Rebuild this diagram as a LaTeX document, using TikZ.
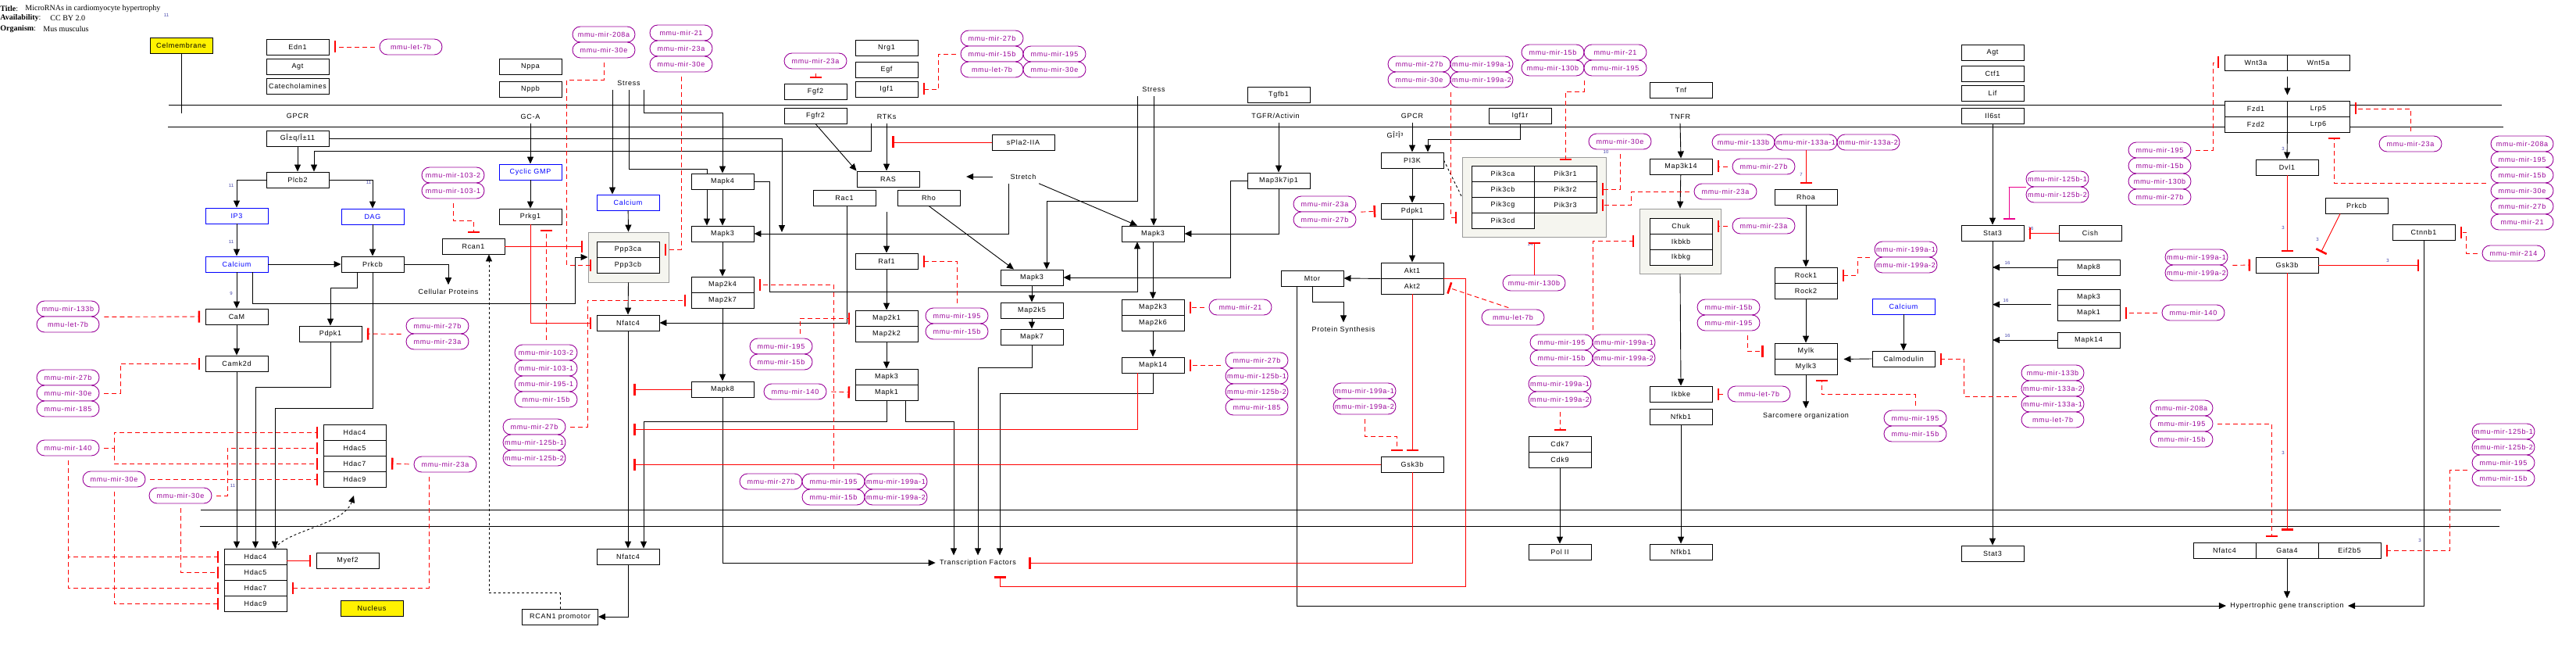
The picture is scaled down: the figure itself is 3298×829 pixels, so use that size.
\documentclass[tikz,border=0pt]{standalone}
\usepackage{fontspec}
\setmainfont{Liberation Serif}
\newfontfamily\genefam[LetterSpace=8]{Liberation Sans}
\newfontfamily\numfam{Liberation Sans}
\newcommand{\genefont}{\genefam\fontsize{9}{10}\selectfont}
\usetikzlibrary{arrows.meta}
\usetikzlibrary{shapes.misc}
\definecolor{mir-purple}{HTML}{990099}
\definecolor{pale-gray}{HTML}{F5F5EF}
\definecolor{cplx-gray}{HTML}{999999}
\definecolor{num-blue}{HTML}{4444AA}
\tikzset{gene/.style = {draw, fill=white, minimum width=80pt, minimum height=20pt, inner sep=0pt, font=\genefont}}
\tikzset{metab/.style = {gene, draw=blue, text=blue}}
\tikzset{yel/.style = {gene, fill=yellow}}
\tikzset{mir/.style = {draw=mir-purple, text=mir-purple, fill=white, rounded corners=10pt, minimum width=80pt, minimum height=20pt, inner sep=0pt, font=\genefont}}
\tikzset{txt/.style = {inner sep=5pt, font=\genefont}}
\tikzset{hdr/.style = {anchor=west, inner sep=0pt, font=\fontsize{10}{12}\selectfont}}
\tikzset{num/.style = {inner sep=0pt, text=num-blue, font=\numfam\fontsize{6}{6}\selectfont}}
\tikzset{cplx/.style = {chamfered rectangle, chamfered rectangle xsep=12pt, chamfered rectangle ysep=12pt, draw=cplx-gray, fill=pale-gray, inner sep=0pt}}
\tikzset{arr/.style = {-{Triangle[length=9pt,width=8pt]}}}
\tikzset{inh/.style = {draw=red, -{Bar[width=15pt,line width=2.5pt]}, shorten >=6.5pt}}
\tikzset{mirinh/.style = {inh, dash pattern=on 6pt off 4pt, shorten <=6pt}}

\begin{document}
\begin{tikzpicture}[x=1pt, y=-1pt, line width=0.9pt]
\useasboundingbox (0,0) rectangle (3298,829);

% membranes
\draw (216,134) -- (3203,134);
\draw (215,162) -- (3205,162);
\draw (257,652) -- (3202,652);
\draw (256,673) -- (3200,673);

\node[hdr] (ttl) at (0,11) {\textbf{Title}:};
\node[hdr] (ttlv) at (32,11) {MicroRNAs in cardiomyocyte hypertrophy};
\node[hdr] (avl) at (0,23) {\textbf{Availability}:};
\node[hdr] (avlv) at (64,23) {CC BY 2.0};
\node[hdr] (org) at (0,37) {\textbf{Organism}:};
\node[hdr] (orgv) at (55,37) {Mus musculus};

% left block
\node[yel] (celmem) at (232,58) {Celmembrane};
\coordinate (cmend) at (232,145);
\node[gene] (edn1) at (381,60) {Edn1};
\node[gene] (agt1) at (381,85) {Agt};
\node[gene] (catech) at (381,110) {Catecholamines};
\node[mir] (ml1) at (526,60) {mmu-let-7b};
\node[txt] (gpcr1) at (381,148) {GPCR};
\node[gene] (gaq) at (381,177) {GÎ±q/Î±11};
\node[gene] (plcb2) at (381,230) {Plcb2};
\node[metab] (ip3) at (303,276) {IP3};
\node[metab] (dag) at (477,277) {DAG};
\node[metab] (calc1) at (303,338) {Calcium};
\node[gene] (prkcb1) at (477,338) {Prkcb};
\node[gene] (cam) at (303,405) {CaM};
\node[gene] (camk2d) at (303,465) {Camk2d};
\node[gene] (pdpk1a) at (423,427) {Pdpk1};
\node[txt] (cellprot) at (574,373) {Cellular Proteins};
\node[mir] (m133b1) at (87,395) {mmu-mir-133b};
\node[mir] (ml2) at (87,415) {mmu-let-7b};
\node[mir] (m27b1) at (87,483) {mmu-mir-27b};
\node[mir] (m30e1) at (87,503) {mmu-mir-30e};
\node[mir] (m185a) at (87,523) {mmu-mir-185};
\node[mir] (m140a) at (87,573) {mmu-mir-140};
\node[mir] (m30e2) at (146,613) {mmu-mir-30e};
\node[mir] (m30e3) at (231,634) {mmu-mir-30e};
\node[gene] (hu4) at (454,553) {Hdac4};
\node[gene] (hu5) at (454,573) {Hdac5};
\node[gene] (hu7) at (454,593) {Hdac7};
\node[gene] (hu9) at (454,613) {Hdac9};
\node[gene] (hl4) at (327,712) {Hdac4};
\node[gene] (hl5) at (327,732) {Hdac5};
\node[gene] (hl7) at (327,752) {Hdac7};
\node[gene] (hl9) at (327,772) {Hdac9};
\node[gene] (myef2) at (445,717) {Myef2};
\node[yel] (nucleus) at (476,778) {Nucleus};
\node[mir] (m23a1) at (570,594) {mmu-mir-23a};
\node[mir] (m27b2) at (560,417) {mmu-mir-27b};
\node[mir] (m23a2) at (560,437) {mmu-mir-23a};

% calcineurin block
\node[mir] (m103a) at (580,224) {mmu-mir-103-2};
\node[mir] (m103b) at (580,244) {mmu-mir-103-1};
\node[gene] (rcan1) at (606,315) {Rcan1};
\node[gene] (nppa) at (679,85) {Nppa};
\node[gene] (nppb) at (679,114) {Nppb};
\node[txt] (gca) at (679,149) {GC-A};
\node[metab] (cgmp) at (679,220) {Cyclic GMP};
\node[gene] (prkg1) at (679,277) {Prkg1};
\node[mir] (m208a1) at (773,44) {mmu-mir-208a};
\node[mir] (m30e4) at (773,64) {mmu-mir-30e};
\node[mir] (m21a) at (872,42) {mmu-mir-21};
\node[mir] (m23a3) at (872,62) {mmu-mir-23a};
\node[mir] (m30e5) at (872,82) {mmu-mir-30e};
\node[txt] (stress1) at (805,106) {Stress};
\node[metab] (calc2) at (804,259) {Calcium};
\node[cplx, minimum width=103pt, minimum height=64pt] (ppp) at (804.5,329) {};
\node[gene] (ppp3ca) at (804,319) {Ppp3ca};
\node[gene] (ppp3cb) at (804,339) {Ppp3cb};
\node[gene] (nfatc4a) at (804,413) {Nfatc4};
\node[gene] (nfatc4b) at (804,712) {Nfatc4};
\node[gene, minimum width=97pt] (rcanp) at (717,789) {RCAN1 promotor};
\node[mir] (m103c) at (699,451) {mmu-mir-103-2};
\node[mir] (m103d) at (699,471) {mmu-mir-103-1};
\node[mir] (m195a) at (699,491) {mmu-mir-195-1};
\node[mir] (m15b1) at (699,511) {mmu-mir-15b};
\node[mir] (m27b3) at (684,546) {mmu-mir-27b};
\node[mir] (m125a) at (684,566) {mmu-mir-125b-1};
\node[mir] (m125b) at (684,586) {mmu-mir-125b-2};

% MAPK block
\node[gene] (mapk4) at (925,232) {Mapk4};
\node[gene] (mapk3a) at (925,299) {Mapk3};
\node[gene] (map2k4) at (925,364) {Map2k4};
\node[gene] (map2k7) at (925,384) {Map2k7};
\node[gene] (mapk8a) at (925,498) {Mapk8};
\coordinate (mk3in) at (1001,297);
\node[mir] (m23a4) at (1044,78) {mmu-mir-23a};
\node[gene] (fgf2) at (1044,117) {Fgf2};
\node[gene] (fgfr2) at (1044,148) {Fgfr2};
\node[gene] (nrg1) at (1135,61) {Nrg1};
\node[gene] (egf) at (1135,89) {Egf};
\node[gene] (igf1) at (1135,114) {Igf1};
\node[mir] (m27b4) at (1270,49) {mmu-mir-27b};
\node[mir] (m15b2) at (1270,69) {mmu-mir-15b};
\node[mir] (ml3) at (1270,89) {mmu-let-7b};
\node[mir] (m195b) at (1350,69) {mmu-mir-195};
\node[mir] (m30e6) at (1350,89) {mmu-mir-30e};
\node[txt] (rtks) at (1135,149) {RTKs};
\node[gene] (ras) at (1137,229) {RAS};
\node[gene] (rac1) at (1081,253) {Rac1};
\node[gene] (rho) at (1189,253) {Rho};
\coordinate (rasout) at (1135,271);
\node[gene] (spla2) at (1310,182) {sPla2-IIA};
\coordinate (tspla) at (1142,182);
\node[txt] (stretch) at (1310,226) {Stretch};
\node[gene] (raf1) at (1135,334) {Raf1};
\node[gene] (map2k1) at (1135,407) {Map2k1};
\node[gene] (map2k2) at (1135,427) {Map2k2};
\node[gene] (mapk3b) at (1135,482) {Mapk3};
\node[gene] (mapk1a) at (1135,502) {Mapk1};
\node[mir] (m195c) at (1225,404) {mmu-mir-195};
\node[mir] (m15b3) at (1225,424) {mmu-mir-15b};
\node[mir] (m195d) at (1000,443) {mmu-mir-195};
\node[mir] (m15b4) at (1000,463) {mmu-mir-15b};
\node[mir] (m140b) at (1018,501) {mmu-mir-140};
\node[mir] (m27b5) at (987,616) {mmu-mir-27b};
\node[mir] (m195e) at (1067,616) {mmu-mir-195};
\node[mir] (m15b5) at (1067,636) {mmu-mir-15b};
\node[mir] (m199a) at (1147,616) {mmu-mir-199a-1};
\node[mir] (m199b) at (1147,636) {mmu-mir-199a-2};
\node[gene] (mapk3c) at (1321,355) {Mapk3};
\node[gene] (map2k5) at (1321,397) {Map2k5};
\node[gene] (mapk7) at (1321,431) {Mapk7};
\node[txt] (stress2) at (1477,114) {Stress};
\node[gene] (mapk3d) at (1476,299) {Mapk3};
\node[gene] (map2k3) at (1476,393) {Map2k3};
\node[gene] (map2k6) at (1476,413) {Map2k6};
\node[gene] (mapk14a) at (1476,467) {Mapk14};
\node[mir] (m21b) at (1588,393) {mmu-mir-21};
\node[mir] (m27b6) at (1609,461) {mmu-mir-27b};
\node[mir] (m125c) at (1609,481) {mmu-mir-125b-1};
\node[mir] (m125d) at (1609,501) {mmu-mir-125b-2};
\node[mir] (m185b) at (1609,521) {mmu-mir-185};
\node[txt] (tf) at (1252,720) {Transcription Factors};
\coordinate (tmapk8) at (811,498);
\coordinate (tmapk14) at (811,549);
\coordinate (tgsk) at (811,594);
\coordinate (ttf1) at (1317,720);
\coordinate (ttf2) at (1280,737);
\node[gene] (tgfb1) at (1637,121) {Tgfb1};
\node[txt] (tgfr) at (1633,148) {TGFR/Activin};
\node[gene] (map3k7) at (1637,231) {Map3k7ip1};

% PI3K block
\node[txt] (gpcr2) at (1808,148) {GPCR};
\node[txt, inner sep=0pt] (gbg) at (1786,173) {GÎ²Î³};
\node[mir] (m27b7) at (1817,82) {mmu-mir-27b};
\node[mir] (m30e7) at (1817,102) {mmu-mir-30e};
\node[mir] (m199c) at (1897,82) {mmu-mir-199a-1};
\node[mir] (m199d) at (1897,102) {mmu-mir-199a-2};
\node[gene] (igf1r) at (1946,148) {Igf1r};
\node[gene] (pi3k) at (1808,205) {PI3K};
\node[gene] (pdpk1b) at (1808,270) {Pdpk1};
\node[gene] (akt1) at (1808,346) {Akt1};
\node[gene] (akt2) at (1808,366) {Akt2};
\node[mir] (m23a5) at (1696,261) {mmu-mir-23a};
\node[mir] (m27b8) at (1696,281) {mmu-mir-27b};
\node[gene] (mtor) at (1680,356) {Mtor};
\node[txt] (protsyn) at (1720,422) {Protein Synthesis};
\node[mir] (ml4) at (1937,406) {mmu-let-7b};
\node[mir] (m130a) at (1964,362) {mmu-mir-130b};
\node[mir] (m199e) at (1747,500) {mmu-mir-199a-1};
\node[mir] (m199f) at (1747,520) {mmu-mir-199a-2};
\node[gene] (gsk3a) at (1808,594) {Gsk3b};
\node[cplx, minimum width=184pt, minimum height=102pt] (pik) at (1964,252) {};
\node[gene] (pik3ca) at (1924,222) {Pik3ca};
\node[gene] (pik3r1) at (2004,222) {Pik3r1};
\node[gene] (pik3cb) at (1924,242) {Pik3cb};
\node[gene] (pik3r2) at (2004,242) {Pik3r2};
\node[gene] (pik3cg) at (1924,262) {Pik3cg};
\node[gene] (pik3r3) at (2004,262) {Pik3r3};
\node[gene] (pik3cd) at (1924,282) {Pik3cd};
\node[mir] (m15b6) at (1988,67) {mmu-mir-15b};
\node[mir] (m130b) at (1988,87) {mmu-mir-130b};
\node[mir] (m21c) at (2068,67) {mmu-mir-21};
\node[mir] (m195f) at (2068,87) {mmu-mir-195};
\node[mir] (m30e8) at (2074,181) {mmu-mir-30e};

% TNF block
\node[gene] (tnf) at (2152,115) {Tnf};
\node[txt] (tnfr) at (2151,149) {TNFR};
\node[gene] (map3k14) at (2152,213) {Map3k14};
\node[cplx, minimum width=104pt, minimum height=83pt] (ikk) at (2151,308.5) {};
\node[gene] (chuk) at (2152,289) {Chuk};
\node[gene] (ikbkb) at (2152,309) {Ikbkb};
\node[gene] (ikbkg) at (2152,329) {Ikbkg};
\node[mir] (m23a6) at (2209,245) {mmu-mir-23a};
\node[mir] (m27b9) at (2258,213) {mmu-mir-27b};
\node[mir] (m23a7) at (2258,289) {mmu-mir-23a};
\node[mir] (m195g) at (1999,438) {mmu-mir-195};
\node[mir] (m15b7) at (1999,458) {mmu-mir-15b};
\node[mir] (m199g) at (2079,438) {mmu-mir-199a-1};
\node[mir] (m199h) at (2079,458) {mmu-mir-199a-2};
\node[mir] (m199i) at (1997,491) {mmu-mir-199a-1};
\node[mir] (m199j) at (1997,511) {mmu-mir-199a-2};
\node[gene] (cdk7) at (1997,568) {Cdk7};
\node[gene] (cdk9) at (1997,588) {Cdk9};
\node[gene] (pol2) at (1997,706) {Pol II};
\node[gene] (ikbke) at (2152,504) {Ikbke};
\node[gene] (nfkb1a) at (2152,533) {Nfkb1};
\node[gene] (nfkb1b) at (2152,706) {Nfkb1};
\node[mir] (ml5) at (2252,504) {mmu-let-7b};

% Rho / Mylk block
\node[mir] (m133c) at (2232,182) {mmu-mir-133b};
\node[mir] (m133d) at (2312,182) {mmu-mir-133a-1};
\node[mir] (m133e) at (2392,182) {mmu-mir-133a-2};
\node[gene] (rhoa) at (2312,252) {Rhoa};
\node[gene] (rock1) at (2312,352) {Rock1};
\node[gene] (rock2) at (2312,372) {Rock2};
\node[mir] (m199k) at (2440,319) {mmu-mir-199a-1};
\node[mir] (m199l) at (2440,339) {mmu-mir-199a-2};
\node[mir] (m15b8) at (2213,393) {mmu-mir-15b};
\node[mir] (m195h) at (2213,413) {mmu-mir-195};
\node[metab] (calc3) at (2437,392) {Calcium};
\node[gene] (calmod) at (2437,459) {Calmodulin};
\node[gene] (mylk) at (2312,449) {Mylk};
\node[gene] (mylk3) at (2312,469) {Mylk3};
\node[txt] (sarc) at (2312,532) {Sarcomere organization};
\node[mir] (m195i) at (2452,535) {mmu-mir-195};
\node[mir] (m15b9) at (2452,555) {mmu-mir-15b};
\node[mir] (m133f) at (2628,477) {mmu-mir-133b};
\node[mir] (m133g) at (2628,497) {mmu-mir-133a-2};
\node[mir] (m133h) at (2628,517) {mmu-mir-133a-1};
\node[mir] (ml6) at (2628,537) {mmu-let-7b};

% Stat3 block
\node[gene] (agt2) at (2551,67) {Agt};
\node[gene] (ctf1) at (2551,94) {Ctf1};
\node[gene] (lif) at (2551,119) {Lif};
\node[gene] (il6st) at (2551,148) {Il6st};
\node[gene] (stat3a) at (2551,298) {Stat3};
\node[gene] (stat3b) at (2551,708) {Stat3};
\node[mir] (m125e) at (2634,229) {mmu-mir-125b-1};
\node[mir] (m125f) at (2634,249) {mmu-mir-125b-2};
\node[gene] (cish) at (2676,298) {Cish};
\node[gene] (mapk8b) at (2674,342) {Mapk8};
\node[gene] (mapk3e) at (2674,380) {Mapk3};
\node[gene] (mapk1b) at (2674,400) {Mapk1};
\node[gene] (mapk14b) at (2674,435) {Mapk14};
\node[mir] (m140c) at (2808,400) {mmu-mir-140};

% Wnt block
\node[gene] (wnt3a) at (2888,80) {Wnt3a};
\node[gene] (wnt5a) at (2968,80) {Wnt5a};
\node[gene] (fzd1) at (2888,139) {Fzd1};
\node[gene] (lrp5) at (2968,139) {Lrp5};
\node[gene] (fzd2) at (2888,159) {Fzd2};
\node[gene] (lrp6) at (2968,159) {Lrp6};
\node[mir] (m195j) at (2765,192) {mmu-mir-195};
\node[mir] (m15b10) at (2765,212) {mmu-mir-15b};
\node[mir] (m130c) at (2765,232) {mmu-mir-130b};
\node[mir] (m27b10) at (2765,252) {mmu-mir-27b};
\node[mir] (m23a8) at (3086,184) {mmu-mir-23a};
\node[mir] (m208a2) at (3229,184) {mmu-mir-208a};
\node[mir] (m195k) at (3229,204) {mmu-mir-195};
\node[mir] (m15b11) at (3229,224) {mmu-mir-15b};
\node[mir] (m30e9) at (3229,244) {mmu-mir-30e};
\node[mir] (m27b11) at (3229,264) {mmu-mir-27b};
\node[mir] (m21d) at (3229,284) {mmu-mir-21};
\node[gene] (dvl1) at (2928,214) {Dvl1};
\node[gene] (prkcb2) at (3017,263) {Prkcb};
\node[gene] (gsk3b) at (2928,339) {Gsk3b};
\node[mir] (m199m) at (2812,329) {mmu-mir-199a-1};
\node[mir] (m199n) at (2812,349) {mmu-mir-199a-2};
\node[gene] (ctnnb1) at (3103,297) {Ctnnb1};
\coordinate (tctn) at (3097,339);
\node[mir] (m214) at (3218,324) {mmu-mir-214};
\node[gene] (nfatc4c) at (2848,704) {Nfatc4};
\node[gene] (gata4) at (2928,704) {Gata4};
\node[gene] (eif2b5) at (3008,704) {Eif2b5};
\node[mir] (m208a3) at (2793,522) {mmu-mir-208a};
\node[mir] (m195l) at (2793,542) {mmu-mir-195};
\node[mir] (m15b12) at (2793,562) {mmu-mir-15b};
\node[mir] (m125g) at (3205,552) {mmu-mir-125b-1};
\node[mir] (m125h) at (3205,572) {mmu-mir-125b-2};
\node[mir] (m195m) at (3205,592) {mmu-mir-195};
\node[mir] (m15b13) at (3205,612) {mmu-mir-15b};
\node[txt] (hgt) at (2928,775) {Hypertrophic gene transcription};

% numbers
\node[num] (n0) at (213,19) {11};
\node[num] (n1) at (296,237) {11};
\node[num] (n2) at (472,233) {11};
\node[num] (n3) at (296,309) {11};
\node[num] (n4) at (296,375) {9};
\node[num] (n5) at (298,621) {11};
\node[num] (n6) at (2056,194) {10};
\node[num] (n7) at (1959,312) {14};
\node[num] (n8) at (2306,223) {7};
\node[num] (n9) at (2600,292) {16};
\node[num] (n10) at (2570,336) {16};
\node[num] (n11) at (2568,384) {16};
\node[num] (n12) at (2570,429) {16};
\node[num] (n13) at (2923,190) {3};
\node[num] (n14) at (2923,291) {3};
\node[num] (n15) at (2967,306) {3};
\node[num] (n16) at (3057,333) {3};
\node[num] (n17) at (2923,579) {3};
\node[num] (n18) at (3098,691) {3};

% activations
\draw (celmem.south) -- (cmend);
\draw[arr] (gaq) -- (plcb2);
\draw[arr] (gaq.east) -| (mk3in);
\draw[arr] ([xshift=-20pt]rtks.south) |- (402,193) -- ([xshift=21pt]plcb2.north);
\draw[arr] (plcb2.west) -| (ip3.north);
\draw[arr] (plcb2.east) -| (dag.north);
\draw[arr] (ip3) -- (calc1);
\draw[arr] (dag) -- (prkcb1);
\draw[arr] (calc1) -- (prkcb1);
\draw[arr] (calc1) -- (cam);
\draw[arr] ([xshift=20pt]calc1.south) |- (736,388) |- (ppp.west);
\draw[arr] (prkcb1.east) -| (cellprot.north);
\draw[arr] ([xshift=-20pt]prkcb1.south) -- ++(0,20) -| (pdpk1a.north);
\draw[arr] (prkcb1.south) -- ++(0,174) -| ([xshift=25pt]hl4.north);
\draw[arr] (pdpk1a.south) -- ++(0,58) -| (hl4.north);
\draw[arr] (cam) -- (camk2d);
\draw[arr] (camk2d) -- ([xshift=-24pt]hl4.north);
\draw[arr, dashed] ([xshift=25pt]hl4.north) .. controls (368,678) and (440,672) .. (453,634);
\draw[arr] (gca) -- (cgmp);
\draw[arr] (cgmp) -- (prkg1);
\draw[arr] ([xshift=-21pt]stress1.south) -- ([xshift=-20pt]calc2.north);
\draw (stress1.south) |- (905,216) -- ([xshift=-20pt]mapk4.north);
\draw[arr] ([xshift=19pt]stress1.south) |- (925,144) -- (mapk4.north);
\draw[arr] (calc2) -- (ppp.north);
\draw[arr] (ppp.south) -- (nfatc4a.north);
\draw[arr] ([xshift=-20pt]mapk4.south) -- ([xshift=-20pt]mapk3a.north);
\draw[arr] (mapk4) -- (mapk3a);
\draw[arr] (mapk3a) -- (map2k4);
\draw[arr] (map2k7) -- (mapk8a);
\draw[arr] (mapk4.east) -- ++(20,0) |- (1456,373) -- ([xshift=-20pt]mapk3d.south);
\draw[arr] ([xshift=3pt]rac1.south) |- (nfatc4a.east);
\draw[arr] (fgfr2.south) -- (ras.north west);
\draw[arr] (rtks.south) -- (rtks.south |- ras.north);
\draw[arr] ([xshift=-17pt]stretch.west) -- ++(-34,0);
\draw[arr] ([xshift=-19pt]stretch.south) |- (mapk3a.east);
\draw[arr] ([xshift=20pt]stretch.south) -- ([xshift=-20pt]mapk3d.north);
\draw[arr] (rho.south) -- ([xshift=-23pt]mapk3c.north);
\draw[arr] (rasout) -- (raf1);
\draw[arr] (raf1) -- (map2k1);
\draw[arr] (map2k2) -- (mapk3b);
\draw[arr] ([xshift=-21pt]stress2.south) |- (1340,257) -- ([xshift=19pt]mapk3c.north);
\draw[arr] (stress2.south) -- (stress2.south |- mapk3d.north);
\draw[arr] (map3k7.north |- tgfr.south) -- (map3k7.north);
\draw[arr] (map3k7.west) -- ++(-21,0) |- (mapk3c.east);
\draw[arr] (map3k7.south) |- (mapk3d.east);
\draw[arr] (mapk3c) -- (map2k5);
\draw[arr] (map2k5) -- (mapk7);
\draw[arr] (mapk3d) -- (map2k3);
\draw[arr] (map2k6) -- (mapk14a);
\draw[arr] (mapk7.south) -- ++(0,29) -| (tf.north);
\draw[arr] (mapk14a.south) -- ++(0,26) -| ([xshift=28pt]tf.north);
\draw[arr] ([xshift=24pt]mapk1a.south) -- ++(0,27) -| ([xshift=-31pt]tf.north);
\draw[arr] (mapk1a.south) -- ++(0,27) -| ([xshift=20pt]nfatc4b.north);
\draw[arr] (nfatc4a) -- (nfatc4b);
\draw[arr] (mapk8a.south) |- (tf.west);
\draw[arr] (nfatc4b.south) |- (rcanp.east);
\draw[arr, dashed] (rcanp.north) -- ++(0,-20) -| ([xshift=20pt]rcan1.south);
\draw[arr] (igf1r.south) -- ++(0,20) -| ([xshift=20pt]pi3k.north);
\draw[arr] (gpcr2.south) -- (pi3k.north);
\draw[arr] (pi3k) -- (pdpk1b);
\draw[arr] (pdpk1b) -- (akt1);
\draw[arr] (akt1.south west) -- (mtor.east);
\draw[arr] (mtor.south) -- ++(0,20) -| (protsyn.north);
\draw[arr] ([xshift=-20pt]mtor.south) |- (hgt.west);
\draw[dashed] (pi3k.east) -- (pik.west);
\draw[arr] (tnfr.south) -- (map3k14.north);
\draw[arr] (map3k14) -- (ikk.north);
\draw[arr] (ikk.south) -- (ikbke.north);
\draw[arr] (nfkb1a) -- (nfkb1b);
\draw[arr] (cdk9) -- (pol2);
\draw[arr] (il6st) -- (stat3a);
\draw[arr] (stat3a) -- (stat3b);
\draw[arr] (mapk8b.west) -- (mapk8b.west -| stat3a.south);
\draw[arr] ([xshift=-8pt]mapk1b.north west) -- (mapk1b.north west -| stat3a.south);
\draw[arr] (mapk14b.west) -- (mapk14b.west -| stat3a.south);
\draw[arr] (rhoa) -- (rock1);
\draw[arr] (rock2) -- (mylk);
\draw[arr] (calc3) -- (calmod);
\draw[arr] (calmod.west) -- ([xshift=8pt]mylk.south east);
\draw[arr] (mylk3) -- (sarc);
\draw[arr] ([yshift=-8pt]wnt3a.south east) -- ([yshift=7pt]fzd1.north east);
\draw[arr] (fzd2.south east) -- (dvl1.north);
\draw[arr] (ctnnb1.south) |- (hgt.east);
\draw[arr] (gata4.south) -- (hgt.north);

% inhibitions
\draw[inh] (rcan1.east) -- (rcan1.east -| ppp.west);
\draw[inh] (prkg1.south) |- (nfatc4a.west);
\draw[inh, shorten >=0pt] (spla2.west) -- (tspla);
\draw[inh, shorten >=0pt] (mapk8a.west) -- (tmapk8);
\draw[inh, shorten >=0pt] ([xshift=-20pt]mapk14a.south) |- (tmapk14);
\draw[inh, shorten >=0pt] (gsk3a.west) -- (tgsk);
\draw[inh, shorten >=0pt] (gsk3a.south) |- (ttf1);
\draw[inh, shorten >=0pt] (akt1.south east) -| (1876,750) -| (ttf2);
\draw[inh] (akt2.south) -- (gsk3a.north);
\draw[inh] (m130a.north) -- (pik.south);
\draw[inh] (m133d.south) -- (rhoa.north);
\draw[inh] (cish.west) -- (stat3a.east);
\draw[inh, draw=magenta] (m125e.south west) -- ++(-22,0) -| ([xshift=21pt]stat3a.north);
\draw[inh] (dvl1) -- (gsk3b);
\draw[inh] ([xshift=-21pt]prkcb2.south) -- (gsk3b.north east);
\draw[inh, shorten >=0pt] (gsk3b.east) -- (tctn);
\draw[inh, shorten >=15pt] (gsk3b.south) -- (gata4.north);
\draw[inh] (hl4.east |- myef2.west) -- (myef2.west);

% microRNA targets
\draw[mirinh] (ml1.west) -- (edn1.east);
\draw[mirinh] (m133b1.south east) -- (cam.west);
\draw[mirinh] (m30e1.east) -- ++(27,0) |- (camk2d.west);
\draw[mirinh] (m140a.east) -- (146,573) |- (hu4.west);
\draw[mirinh, shorten <=0pt] (146,573) |- (hu7.west);
\draw[mirinh] (m140a.south) |- (hl4.west);
\draw[mirinh] (m140a.south) |- (hl7.west);
\draw[mirinh] (m30e2.east) -- (hu9.west);
\draw[mirinh] (m30e2.south) |- (hl9.west);
\draw[mirinh] (m30e3.east) -- ++(20,0) |- (hu5.west);
\draw[mirinh] (m30e3.south) |- (hl5.west);
\draw[mirinh] (m23a1.west) -- (hu7.east);
\draw[mirinh] ([xshift=-21pt]m23a1.south) |- (hl7.east);
\draw[mirinh] (m27b2.south west) -- (pdpk1a.east);
\draw[mirinh] (m103b.south) -- ++(0,28) -| (rcan1.north);
\draw[mirinh] (m30e4.south) -- ++(0,28) -| ([xshift=-38pt]ppp3cb.west) -- (ppp3cb.west);
\draw[mirinh] (m30e5.south) |- (ppp3ca.east);
\draw[mirinh] (m103c.north) -- (prkg1.south -| m103c.north);
\draw[mirinh] (m27b3.east) -- ++(28,0) |- (map2k7.west);
\draw[mirinh] (m195e.north) |- (map2k4.east);
\draw[mirinh] ([xshift=24pt]m195d.north) |- (map2k1.west);
\draw[mirinh] (m140b.east) -- (mapk1a.west);
\draw[mirinh] (m195c.north) |- (raf1.east);
\draw[mirinh] (m15b2.west) -- ++(-28,0) |- (igf1.east);
\draw[mirinh] (m23a4.south) -- (fgf2.north);
\draw[mirinh] (m21b.west) -- (map2k3.east);
\draw[mirinh] (m27b6.west |- mapk14a.east) -- (mapk14a.east);
\draw[mirinh] (m30e7.south east) |- (pik.west |- 0,278);
\draw[mirinh] (m130b.south east) -- ++(0,20) -| (pik3r1.north);
\draw[mirinh] (m30e8.south) |- (pik3r2.east);
\draw[mirinh] (m23a6.west) -- ++(-80,0) |- (pik3r3.east);
\draw[mirinh] (m23a5.south east) -- (pdpk1b.west);
\draw[mirinh] (ml4.north) -- (akt2.east);
\draw[mirinh] (m199f.south) -- ++(0,28) -| ([xshift=-20pt]gsk3a.north);
\draw[mirinh] (m195g.north east) |- (ikk.west);
\draw[mirinh] (m27b9.west) -- (map3k14.east);
\draw[mirinh] (m23a7.west) -- (chuk.east);
\draw[mirinh] (ml5.west) -- (ikbke.east);
\draw[mirinh] (m199j.south) -- (cdk7.north);
\draw[mirinh] (m199k.south west) -- ++(-21,0) |- (rock1.east);
\draw[mirinh, shorten >=14pt] ([xshift=24pt]m195h.south) |- (mylk.west);
\draw[mirinh] (m195i.north) -- ++(0,-20) -| ([xshift=20pt]mylk3.south);
\draw[mirinh] (m133g.south west) -- ++(-73,0) |- (calmod.east);
\draw[mirinh] (m140c.west) -- (mapk1b.east);
\draw[mirinh] (m195j.east) -- ++(28,0) |- (wnt3a.west);
\draw[mirinh] (m23a8.north) |- (lrp5.east);
\draw[mirinh] (m15b11.south west) -| ([xshift=20pt]lrp6.south);
\draw[mirinh] (m199m.south east) -- (gsk3b.west);
\draw[mirinh] (m214.west) -- ++(-20,0) |- (ctnnb1.east);
\draw[mirinh] (m195l.east) -| ([xshift=-20pt]gata4.north);
\draw[mirinh] (m15b13.north west) -- ++(-28,0) |- (eif2b5.east);

\end{tikzpicture}
\end{document}
